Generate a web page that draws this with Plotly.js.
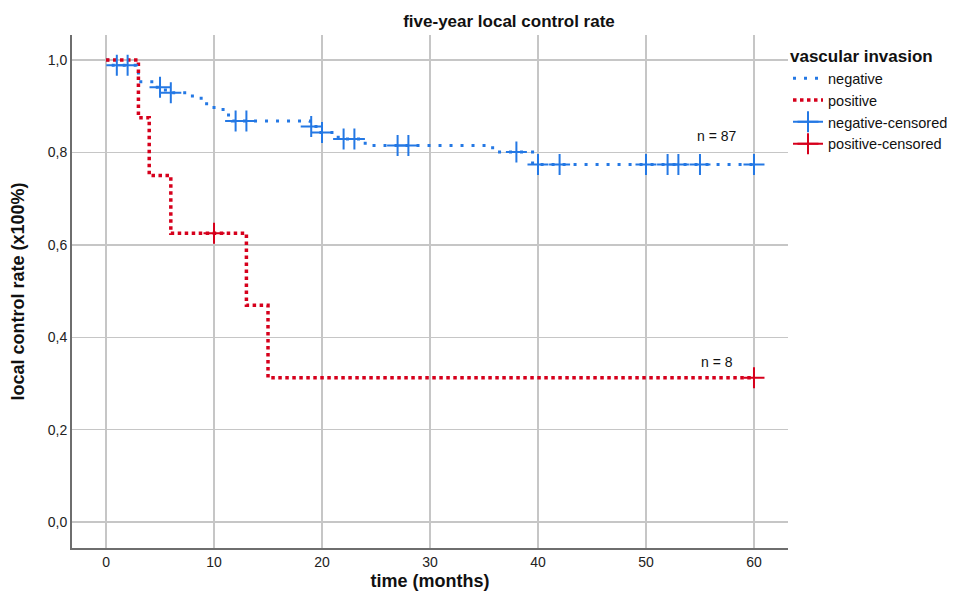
<!DOCTYPE html>
<html>
<head>
<meta charset="utf-8">
<script src="https://cdn.plot.ly/plotly-3.0.1.min.js"></script>
<style>html,body{margin:0;padding:0;background:#fff;overflow:hidden;}#chart{width:980px;height:595px;}</style>
</head>
<body>
<div id="chart"></div>
<script>
// Negative vascular invasion (n = 87) – Kaplan-Meier steps
const negTime = [0, 0.5, 3, 4.5, 5.5, 8, 9, 10, 11, 11.7, 18.9, 19.7, 21.5, 24, 35.8, 39.5, 60];
const negSurv = [1, 0.9885, 0.953, 0.941, 0.929, 0.917, 0.905, 0.893, 0.881, 0.868, 0.856, 0.843, 0.829, 0.815, 0.801, 0.774, 0.774];
const negCensTime = [1, 2, 5, 6, 12, 13, 19, 20, 22, 23, 27, 28, 38, 40, 42, 50, 52, 53, 55, 60];
const negCensSurv = [0.9885, 0.9885, 0.941, 0.929, 0.868, 0.868, 0.856, 0.843, 0.829, 0.829, 0.815, 0.815, 0.801, 0.774, 0.774, 0.774, 0.774, 0.774, 0.774, 0.774];

// Positive vascular invasion (n = 8)
const posTime = [0, 3, 4, 6, 13, 15, 60];
const posSurv = [1, 0.875, 0.75, 0.625, 0.469, 0.3125, 0.3125];
const posCensTime = [10, 60];
const posCensSurv = [0.625, 0.3125];

const xTicks = [0, 10, 20, 30, 40, 50, 60];
const yTicks = [0, 0.2, 0.4, 0.6, 0.8, 1.0];
const yTickText = ["0,0", "0,2", "0,4", "0,6", "0,8", "1,0"];

const groupLabels = ["negative", "positive", "negative-censored", "positive-censored"];
const nLabels = ["n = 87", "n = 8"];

const blue = "#2478e4";
const red = "#d6001c";

// separate censor points with gaps so no line joins them, but legend shows line+cross
function gapped(arr) {
  const out = [];
  arr.forEach((v, i) => { out.push(v); if (i < arr.length - 1) out.push(null); });
  return out;
}

const traces = [
  {x: negTime, y: negSurv, name: groupLabels[0], mode: "lines", line: {shape: "hv", color: blue, width: 3, dash: "3px,8px"}},
  {x: posTime, y: posSurv, name: groupLabels[1], mode: "lines", line: {shape: "hv", color: red, width: 3.5, dash: "3.5px,3.5px"}},
  {x: gapped(negCensTime), y: gapped(negCensSurv), name: groupLabels[2], mode: "lines+markers", connectgaps: false,
   line: {color: blue, width: 2}, marker: {symbol: "cross-thin", size: 15, line: {color: blue, width: 2}}},
  {x: gapped(posCensTime), y: gapped(posCensSurv), name: groupLabels[3], mode: "lines+markers", connectgaps: false,
   line: {color: red, width: 2}, marker: {symbol: "cross-thin", size: 15, line: {color: red, width: 2}}}
];

const layout = {
  width: 980, height: 595,
  margin: {l: 72, r: 192, t: 35, b: 47},
  paper_bgcolor: "#fff", plot_bgcolor: "#fff",
  font: {family: "Arial, 'Liberation Sans', sans-serif", color: "#222", size: 14},
  title: {text: "five-year local control rate", font: {size: 17, weight: "bold", color: "#111"}, x: 509 / 980, xanchor: "center", y: 0.965, yanchor: "middle", xref: "container", yref: "container"},
  hovermode: false,
  showlegend: true,
  legend: {
    x: 1.0, y: 0.99, xanchor: "left", yanchor: "top",
    title: {text: "vascular invasion", font: {size: 17, weight: "bold", color: "#111"}},
    font: {size: 14.5, color: "#111"}, bgcolor: "rgba(0,0,0,0)", tracegroupgap: 0, itemwidth: 30
  },
  xaxis: {
    range: [-3.15, 63.15], tickvals: xTicks, ticktext: xTicks.map(String), ticks: "",
    showline: true, linecolor: "#6e6e6e", linewidth: 2, showgrid: true, gridcolor: "#c6c6c6", gridwidth: 1.5,
    zeroline: false, tickfont: {size: 14, color: "#222"},
    title: {text: "time (months)", font: {size: 18, weight: "bold", color: "#111"}, standoff: 6}
  },
  yaxis: {
    range: [-0.056, 1.054], tickvals: yTicks, ticktext: yTickText, ticks: "",
    showline: true, linecolor: "#6e6e6e", linewidth: 2, showgrid: true, gridcolor: "#c6c6c6", gridwidth: 1.5,
    zeroline: false, tickfont: {size: 14, color: "#222"},
    title: {text: "local control rate (x100%)", font: {size: 18, weight: "bold", color: "#111"}, standoff: 18}
  },
  annotations: [
    {x: 56.6, y: 0.835, xref: "x", yref: "y", text: nLabels[0], showarrow: false, font: {size: 14, color: "#111"}},
    {x: 56.6, y: 0.346, xref: "x", yref: "y", text: nLabels[1], showarrow: false, font: {size: 14, color: "#111"}}
  ]
};

Plotly.newPlot("chart", traces, layout, {staticPlot: true, displayModeBar: false});
</script>
</body>
</html>
